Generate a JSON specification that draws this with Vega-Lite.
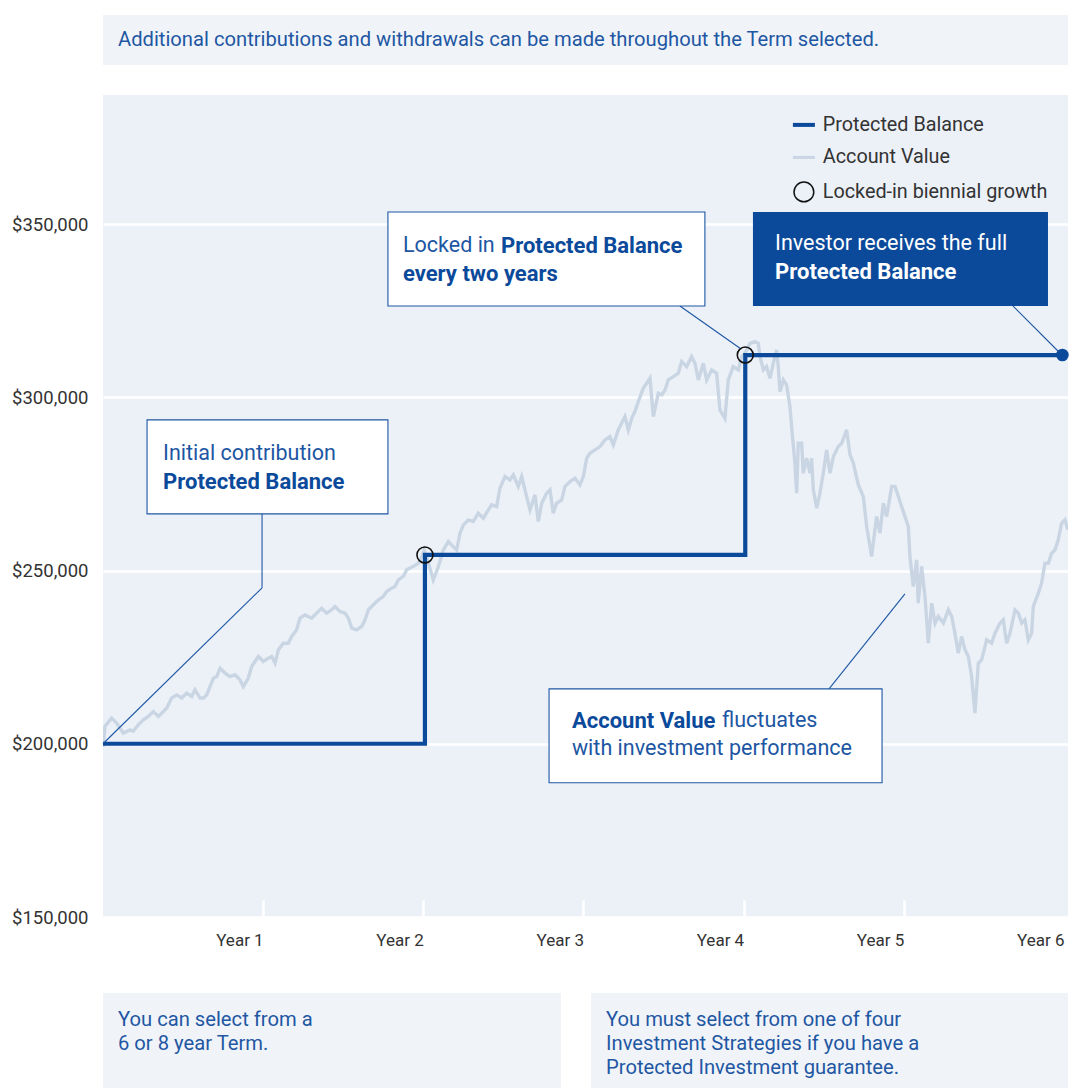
{
  "$schema": "https://vega.github.io/schema/vega-lite/v6.json",
  "padding": {"left": 0, "top": 15, "right": 0, "bottom": 0},
  "autosize": {"type": "pad"},
  "background": "#ffffff",
  "spacing": 30,
  "config": {"view": {"stroke": null}, "font": "Roboto"},
  "resolve": {"scale": {"color": "independent"}, "legend": {"color": "independent"}},
  "datasets": {
    "account": [
      {"year": 0.002, "value": 199200}, {"year": 0.012, "value": 205000}, {"year": 0.054, "value": 207400}, {"year": 0.085, "value": 206000},
      {"year": 0.127, "value": 203100}, {"year": 0.169, "value": 204000}, {"year": 0.189, "value": 203600}, {"year": 0.221, "value": 205500},
      {"year": 0.252, "value": 206900}, {"year": 0.283, "value": 207900}, {"year": 0.314, "value": 209300}, {"year": 0.346, "value": 207900},
      {"year": 0.377, "value": 209300}, {"year": 0.398, "value": 210300}, {"year": 0.429, "value": 213200}, {"year": 0.46, "value": 214100},
      {"year": 0.491, "value": 213200}, {"year": 0.522, "value": 214600}, {"year": 0.554, "value": 213650}, {"year": 0.574, "value": 215600},
      {"year": 0.606, "value": 213200}, {"year": 0.627, "value": 213200}, {"year": 0.647, "value": 214100}, {"year": 0.668, "value": 216500},
      {"year": 0.689, "value": 218900}, {"year": 0.71, "value": 219400}, {"year": 0.731, "value": 221800}, {"year": 0.762, "value": 220400},
      {"year": 0.793, "value": 219400}, {"year": 0.824, "value": 219900}, {"year": 0.855, "value": 218500}, {"year": 0.876, "value": 216500},
      {"year": 0.907, "value": 218900}, {"year": 0.928, "value": 222300}, {"year": 0.949, "value": 223750}, {"year": 0.97, "value": 225200},
      {"year": 1.001, "value": 223750}, {"year": 1.032, "value": 224700}, {"year": 1.053, "value": 225200}, {"year": 1.074, "value": 223300},
      {"year": 1.095, "value": 227100}, {"year": 1.126, "value": 229000}, {"year": 1.157, "value": 229000}, {"year": 1.178, "value": 231000},
      {"year": 1.209, "value": 232900}, {"year": 1.23, "value": 236250}, {"year": 1.261, "value": 237200}, {"year": 1.303, "value": 236250},
      {"year": 1.334, "value": 237700}, {"year": 1.365, "value": 239100}, {"year": 1.396, "value": 237700}, {"year": 1.428, "value": 238700},
      {"year": 1.448, "value": 239600}, {"year": 1.48, "value": 238200}, {"year": 1.511, "value": 237700}, {"year": 1.532, "value": 236250},
      {"year": 1.553, "value": 233400}, {"year": 1.584, "value": 232900}, {"year": 1.615, "value": 233850}, {"year": 1.636, "value": 235800},
      {"year": 1.657, "value": 238700}, {"year": 1.688, "value": 240100}, {"year": 1.719, "value": 241500}, {"year": 1.75, "value": 242500},
      {"year": 1.771, "value": 243950}, {"year": 1.802, "value": 244900}, {"year": 1.823, "value": 245400}, {"year": 1.844, "value": 247300},
      {"year": 1.875, "value": 248300}, {"year": 1.896, "value": 250200}, {"year": 1.938, "value": 251200}, {"year": 1.969, "value": 252100},
      {"year": 1.99, "value": 254000}, {"year": 2.005, "value": 255900}, {"year": 2.03, "value": 252500}, {"year": 2.062, "value": 247300},
      {"year": 2.093, "value": 251000}, {"year": 2.125, "value": 255960}, {"year": 2.156, "value": 258370}, {"year": 2.187, "value": 256900},
      {"year": 2.208, "value": 255960}, {"year": 2.229, "value": 260770}, {"year": 2.25, "value": 263180}, {"year": 2.281, "value": 264600},
      {"year": 2.312, "value": 264140}, {"year": 2.343, "value": 266540}, {"year": 2.375, "value": 265100}, {"year": 2.406, "value": 267500},
      {"year": 2.426, "value": 268950}, {"year": 2.458, "value": 268470}, {"year": 2.478, "value": 273750}, {"year": 2.51, "value": 277120},
      {"year": 2.541, "value": 276160}, {"year": 2.562, "value": 277600}, {"year": 2.593, "value": 274240}, {"year": 2.614, "value": 277120},
      {"year": 2.645, "value": 271350}, {"year": 2.666, "value": 267500}, {"year": 2.697, "value": 271830}, {"year": 2.718, "value": 264140},
      {"year": 2.739, "value": 269430}, {"year": 2.77, "value": 272310}, {"year": 2.791, "value": 273270}, {"year": 2.811, "value": 266540},
      {"year": 2.832, "value": 269430}, {"year": 2.864, "value": 270390}, {"year": 2.884, "value": 274240}, {"year": 2.916, "value": 275680},
      {"year": 2.947, "value": 276640}, {"year": 2.978, "value": 274720}, {"year": 2.999, "value": 277120}, {"year": 3.02, "value": 282410},
      {"year": 3.04, "value": 283850}, {"year": 3.072, "value": 284810}, {"year": 3.103, "value": 285780}, {"year": 3.134, "value": 287700},
      {"year": 3.165, "value": 288660}, {"year": 3.186, "value": 286260}, {"year": 3.217, "value": 290590}, {"year": 3.238, "value": 292510},
      {"year": 3.259, "value": 294430}, {"year": 3.28, "value": 290590}, {"year": 3.301, "value": 293950}, {"year": 3.321, "value": 295870},
      {"year": 3.342, "value": 298760}, {"year": 3.373, "value": 302600}, {"year": 3.415, "value": 305490}, {"year": 3.436, "value": 294430},
      {"year": 3.467, "value": 301160}, {"year": 3.488, "value": 300680}, {"year": 3.509, "value": 302130}, {"year": 3.529, "value": 305010},
      {"year": 3.561, "value": 305970}, {"year": 3.592, "value": 306940}, {"year": 3.613, "value": 310300}, {"year": 3.644, "value": 308860},
      {"year": 3.675, "value": 311740}, {"year": 3.696, "value": 309820}, {"year": 3.717, "value": 305010}, {"year": 3.748, "value": 309820},
      {"year": 3.769, "value": 305010}, {"year": 3.8, "value": 307900}, {"year": 3.831, "value": 306940}, {"year": 3.852, "value": 296360},
      {"year": 3.883, "value": 293950}, {"year": 3.904, "value": 305010}, {"year": 3.935, "value": 308860}, {"year": 3.967, "value": 307900},
      {"year": 3.987, "value": 311740}, {"year": 4.008, "value": 312700}, {"year": 4.039, "value": 315590}, {"year": 4.071, "value": 316070},
      {"year": 4.091, "value": 315590}, {"year": 4.102, "value": 311740}, {"year": 4.123, "value": 307900}, {"year": 4.143, "value": 308860},
      {"year": 4.164, "value": 305490}, {"year": 4.185, "value": 309820}, {"year": 4.206, "value": 313670}, {"year": 4.216, "value": 308860},
      {"year": 4.227, "value": 301650}, {"year": 4.248, "value": 305010}, {"year": 4.268, "value": 303570}, {"year": 4.289, "value": 297320},
      {"year": 4.3, "value": 291070}, {"year": 4.32, "value": 280970}, {"year": 4.331, "value": 272310}, {"year": 4.341, "value": 286740},
      {"year": 4.362, "value": 286740}, {"year": 4.372, "value": 278080}, {"year": 4.393, "value": 282410}, {"year": 4.414, "value": 278080},
      {"year": 4.424, "value": 282410}, {"year": 4.435, "value": 273270}, {"year": 4.456, "value": 267990}, {"year": 4.476, "value": 272310},
      {"year": 4.497, "value": 278080}, {"year": 4.518, "value": 284810}, {"year": 4.539, "value": 278080}, {"year": 4.56, "value": 282890},
      {"year": 4.591, "value": 285780}, {"year": 4.612, "value": 286740}, {"year": 4.643, "value": 290590}, {"year": 4.664, "value": 283370},
      {"year": 4.685, "value": 280970}, {"year": 4.716, "value": 274720}, {"year": 4.747, "value": 271350}, {"year": 4.768, "value": 262700},
      {"year": 4.799, "value": 254040}, {"year": 4.809, "value": 257890}, {"year": 4.83, "value": 265580}, {"year": 4.851, "value": 260770},
      {"year": 4.872, "value": 269430}, {"year": 4.893, "value": 265580}, {"year": 4.924, "value": 274240}, {"year": 4.945, "value": 274240},
      {"year": 4.966, "value": 271350}, {"year": 4.986, "value": 268470}, {"year": 5.007, "value": 265580}, {"year": 5.028, "value": 262700},
      {"year": 5.038, "value": 254040}, {"year": 5.059, "value": 245390}, {"year": 5.08, "value": 253080}, {"year": 5.09, "value": 240580},
      {"year": 5.111, "value": 251160}, {"year": 5.132, "value": 242500}, {"year": 5.153, "value": 229030}, {"year": 5.174, "value": 240580},
      {"year": 5.195, "value": 234810}, {"year": 5.215, "value": 236730}, {"year": 5.247, "value": 234810}, {"year": 5.278, "value": 238660},
      {"year": 5.299, "value": 236730}, {"year": 5.319, "value": 231920}, {"year": 5.34, "value": 226150}, {"year": 5.361, "value": 230960},
      {"year": 5.382, "value": 227110}, {"year": 5.403, "value": 225190}, {"year": 5.423, "value": 219420}, {"year": 5.444, "value": 208840},
      {"year": 5.465, "value": 223260}, {"year": 5.486, "value": 224230}, {"year": 5.517, "value": 230000}, {"year": 5.548, "value": 229030},
      {"year": 5.569, "value": 231920}, {"year": 5.6, "value": 234810}, {"year": 5.621, "value": 235770}, {"year": 5.642, "value": 229030},
      {"year": 5.663, "value": 231920}, {"year": 5.694, "value": 238660}, {"year": 5.715, "value": 237690}, {"year": 5.736, "value": 234810},
      {"year": 5.756, "value": 235770}, {"year": 5.777, "value": 230000}, {"year": 5.798, "value": 231920}, {"year": 5.808, "value": 239620},
      {"year": 5.84, "value": 243460}, {"year": 5.86, "value": 246350}, {"year": 5.881, "value": 252120}, {"year": 5.902, "value": 252120},
      {"year": 5.923, "value": 255000}, {"year": 5.944, "value": 255960}, {"year": 5.964, "value": 258850}, {"year": 5.985, "value": 263630},
      {"year": 6.006, "value": 264620}, {"year": 6.024, "value": 261740}
    ],
    "protected": [
      {"year": 0, "value": 200000}, {"year": 2.01, "value": 254500}, {"year": 4.01, "value": 312200}, {"year": 5.99, "value": 312200}
    ],
    "locks": [
      {"year": 2.01, "value": 254500}, {"year": 4.01, "value": 312200}
    ],
    "payout": [
      {"year": 5.99, "value": 312200}
    ],
    "leaders": [
      {"x": 0.993, "y": 266350, "x2": 0.993, "y2": 245000},
      {"x": 0.993, "y": 245000, "x2": 0.0, "y2": 200000},
      {"x": 3.602, "y": 326360, "x2": 3.977, "y2": 314140},
      {"x": 5.681, "y": 326360, "x2": 5.981, "y2": 312500},
      {"x": 4.533, "y": 215850, "x2": 5.007, "y2": 243270}
    ],
    "boxes": [
      {"x": 0.275, "x2": 1.779, "y": 266350, "y2": 293470},
      {"x": 1.779, "x2": 3.758, "y": 326360, "y2": 353480},
      {"x": 2.785, "x2": 4.864, "y": 188730, "y2": 215850}
    ],
    "darkbox": [
      {"x": 4.058, "x2": 5.9, "y": 326360, "y2": 353480}
    ],
    "plain": [
      {"year": 0.375, "value": 283660, "text": "Initial contribution"},
      {"year": 1.873, "value": 343670, "text": "Locked in"},
      {"year": 3.865, "value": 206630, "text": "fluctuates"},
      {"year": 2.928, "value": 198550, "text": "with investment performance"}
    ],
    "bold": [
      {"year": 0.375, "value": 275580, "text": "Protected Balance"},
      {"year": 2.485, "value": 343670, "text": "Protected Balance"},
      {"year": 1.873, "value": 335590, "text": "every two years"},
      {"year": 2.928, "value": 206630, "text": "Account Value"}
    ],
    "inverse": [
      {"year": 4.196, "value": 344250, "text": "Investor receives the full"}
    ],
    "inversebold": [
      {"year": 4.196, "value": 336170, "text": "Protected Balance"}
    ]
  },
  "vconcat": [
    {
      "width": 965,
      "height": 50,
      "view": {"fill": "#f0f4f9", "stroke": null},
      "data": {"values": [{"note": "Additional contributions and withdrawals can be made throughout the Term selected."}]},
      "mark": {"type": "text", "align": "left", "baseline": "alphabetic", "dx": 15, "dy": 31, "font": "Roboto", "fontSize": 20.2, "color": "#1f57a3"},
      "encoding": {
        "text": {"field": "note"},
        "x": {"datum": 0, "type": "quantitative", "scale": {"domain": [0, 1]}, "axis": null},
        "y": {"datum": 1, "type": "quantitative", "scale": {"domain": [0, 1]}, "axis": {"title": null, "labels": false, "ticks": false, "domain": false, "grid": false, "minExtent": 103, "maxExtent": 103}}
      }
    },
    {
      "width": 965,
      "height": 822,
      "view": {"fill": "#ecf1f8", "stroke": null},
      "layer": [
        {
          "data": {"name": "account"},
          "mark": {"type": "line", "strokeWidth": 3.4, "clip": true},
          "encoding": {
            "x": {"field": "year", "type": "quantitative", "title": null,
              "scale": {"domain": [0, 6.025], "nice": false, "zero": false},
              "axis": {"values": [1, 2, 3, 4, 5, 6], "labelExpr": "'Year ' + datum.value", "title": null, "domain": false, "grid": false,
                "ticks": true, "tickSize": -17, "tickColor": "#ffffff", "tickWidth": 2.5,
                "tickOpacity": {"condition": {"test": "datum.value === 6", "value": 0}, "value": 1},
                "labelAlign": "right", "labelBaseline": "alphabetic",
                "labelPadding": 45, "labelFont": "Roboto", "labelFontSize": 17, "labelColor": "#333333", "labelFlush": false, "minExtent": 46, "maxExtent": 46}},
            "y": {"field": "value", "type": "quantitative", "title": null,
              "scale": {"domain": [150000, 387250], "nice": false, "zero": false},
              "axis": {"values": [150000, 200000, 250000, 300000, 350000], "format": "$,.0f", "title": null, "domain": false, "ticks": false,
                "grid": true, "gridColor": "#ffffff", "gridWidth": 2.5, "labelFont": "Roboto", "labelFontSize": 18.5, "labelColor": "#333333",
                "labelPadding": 15, "minExtent": 103, "maxExtent": 103}},
            "color": {"datum": "Account Value", "type": "nominal",
              "scale": {"domain": ["Protected Balance", "Account Value", "Locked-in biennial growth"], "range": ["#0b4a9b", "#c9d5e3", "#111111"]},
              "legend": {"title": null, "orient": "top-right", "offset": 20, "symbolSize": 484, "labelFont": "Roboto", "labelFontSize": 19.8,
                "labelColor": "#333333", "labelOffset": 9, "rowPadding": 11.5, "labelLimit": 400,
                "encode": {"symbols": {"update": {
                  "shape": {"signal": "datum.value === 'Locked-in biennial growth' ? 'circle' : 'stroke'"},
                  "size": {"signal": "datum.value === 'Locked-in biennial growth' ? 390 : 484"},
                  "strokeWidth": {"signal": "datum.value === 'Protected Balance' ? 4 : datum.value === 'Account Value' ? 3 : 1.5"},
                  "stroke": {"signal": "datum.value === 'Protected Balance' ? '#0b4a9b' : datum.value === 'Account Value' ? '#c9d5e3' : '#111111'"},
                  "fill": {"value": "transparent"},
                  "opacity": {"value": 1}
                }}}}}
          }
        },
        {
          "data": {"name": "protected"},
          "mark": {"type": "line", "strokeWidth": 4.2, "interpolate": "step-after"},
          "encoding": {
            "x": {"field": "year", "type": "quantitative", "title": null},
            "y": {"field": "value", "type": "quantitative", "title": null},
            "color": {"datum": "Protected Balance", "type": "nominal"}
          }
        },
        {
          "data": {"name": "leaders"},
          "mark": {"type": "rule", "color": "#1d56a3", "strokeWidth": 1.1},
          "encoding": {
            "x": {"field": "x", "type": "quantitative", "title": null},
            "y": {"field": "y", "type": "quantitative", "title": null},
            "x2": {"field": "x2"},
            "y2": {"field": "y2"}
          }
        },
        {
          "data": {"name": "boxes"},
          "mark": {"type": "rect", "fill": "#ffffff", "stroke": "#1d56a3", "strokeWidth": 1.1},
          "encoding": {
            "x": {"field": "x", "type": "quantitative", "title": null},
            "x2": {"field": "x2"},
            "y": {"field": "y", "type": "quantitative", "title": null},
            "y2": {"field": "y2"}
          }
        },
        {
          "data": {"name": "darkbox"},
          "mark": {"type": "rect", "fill": "#0b4a9b"},
          "encoding": {
            "x": {"field": "x", "type": "quantitative", "title": null},
            "x2": {"field": "x2"},
            "y": {"field": "y", "type": "quantitative", "title": null},
            "y2": {"field": "y2"}
          }
        },
        {
          "data": {"name": "plain"},
          "mark": {"type": "text", "align": "left", "baseline": "middle", "font": "Roboto", "fontSize": 21.5, "color": "#1d56a3"},
          "encoding": {
            "x": {"field": "year", "type": "quantitative", "title": null},
            "y": {"field": "value", "type": "quantitative", "title": null},
            "text": {"field": "text"}
          }
        },
        {
          "data": {"name": "bold"},
          "mark": {"type": "text", "align": "left", "baseline": "middle", "font": "Roboto", "fontSize": 22, "fontWeight": "bold", "color": "#0b4a9b"},
          "encoding": {
            "x": {"field": "year", "type": "quantitative", "title": null},
            "y": {"field": "value", "type": "quantitative", "title": null},
            "text": {"field": "text"}
          }
        },
        {
          "data": {"name": "inverse"},
          "mark": {"type": "text", "align": "left", "baseline": "middle", "font": "Roboto", "fontSize": 21.5, "color": "#ffffff"},
          "encoding": {
            "x": {"field": "year", "type": "quantitative", "title": null},
            "y": {"field": "value", "type": "quantitative", "title": null},
            "text": {"field": "text"}
          }
        },
        {
          "data": {"name": "inversebold"},
          "mark": {"type": "text", "align": "left", "baseline": "middle", "font": "Roboto", "fontSize": 22, "fontWeight": "bold", "color": "#ffffff"},
          "encoding": {
            "x": {"field": "year", "type": "quantitative", "title": null},
            "y": {"field": "value", "type": "quantitative", "title": null},
            "text": {"field": "text"}
          }
        },
        {
          "data": {"name": "locks"},
          "mark": {"type": "point", "filled": false, "size": 254, "strokeWidth": 1.6, "opacity": 1},
          "encoding": {
            "x": {"field": "year", "type": "quantitative", "title": null},
            "y": {"field": "value", "type": "quantitative", "title": null},
            "color": {"datum": "Locked-in biennial growth", "type": "nominal"}
          }
        },
        {
          "data": {"name": "payout"},
          "mark": {"type": "point", "filled": true, "size": 160, "color": "#0b4a9b", "opacity": 1},
          "encoding": {
            "x": {"field": "year", "type": "quantitative", "title": null},
            "y": {"field": "value", "type": "quantitative", "title": null}
          }
        }
      ]
    },
    {
      "spacing": 30,
      "hconcat": [
        {
          "width": 458,
          "height": 95,
          "view": {"fill": "#f0f4f9", "stroke": null},
          "data": {"values": [{"note": "You can select from a\n6 or 8 year Term."}]},
          "mark": {"type": "text", "align": "left", "baseline": "alphabetic", "dx": 15, "dy": 33, "lineBreak": "\n", "lineHeight": 24, "font": "Roboto", "fontSize": 20.2, "color": "#1f57a3"},
          "encoding": {
            "text": {"field": "note"},
            "x": {"datum": 0, "type": "quantitative", "scale": {"domain": [0, 1]}, "axis": null},
            "y": {"datum": 1, "type": "quantitative", "scale": {"domain": [0, 1]}, "axis": {"title": null, "labels": false, "ticks": false, "domain": false, "grid": false, "minExtent": 103, "maxExtent": 103}}
          }
        },
        {
          "width": 477,
          "height": 95,
          "view": {"fill": "#f0f4f9", "stroke": null},
          "data": {"values": [{"note": "You must select from one of four\nInvestment Strategies if you have a\nProtected Investment guarantee."}]},
          "mark": {"type": "text", "align": "left", "baseline": "alphabetic", "dx": 15, "dy": 33, "lineBreak": "\n", "lineHeight": 24, "font": "Roboto", "fontSize": 20.2, "color": "#1f57a3"},
          "encoding": {
            "text": {"field": "note"},
            "x": {"datum": 0, "type": "quantitative", "scale": {"domain": [0, 1]}, "axis": null},
            "y": {"datum": 1, "type": "quantitative", "scale": {"domain": [0, 1]}, "axis": null}
          }
        }
      ]
    }
  ]
}
